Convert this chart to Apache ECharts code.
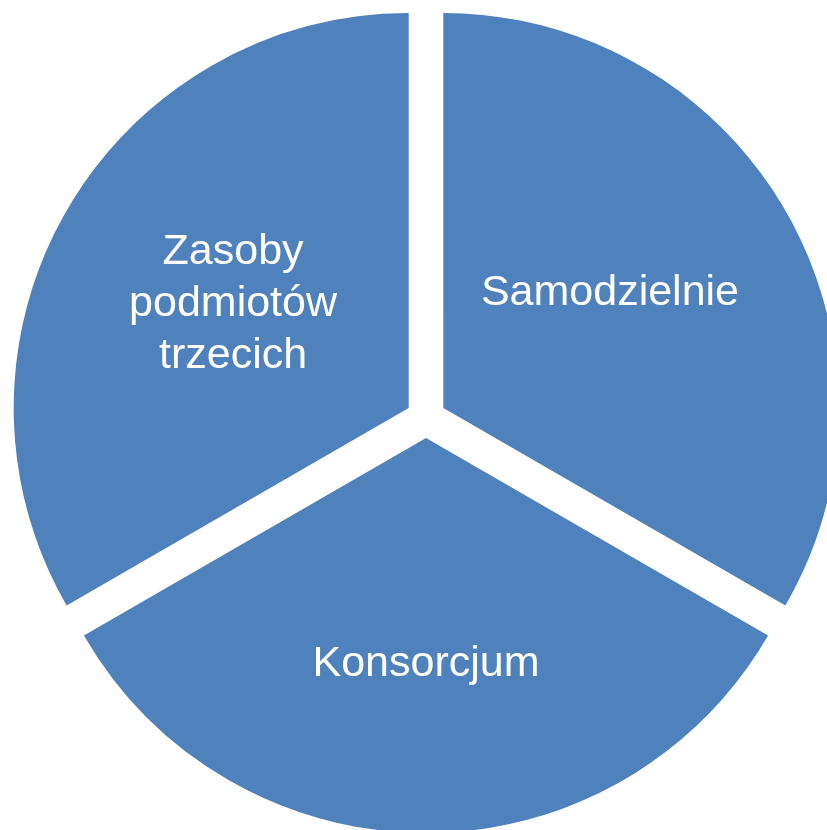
<!DOCTYPE html>
<html>
<head>
<meta charset="utf-8">
<script src="https://cdn.jsdelivr.net/npm/echarts@6/dist/echarts.min.js"></script>
<style>html,body{margin:0;padding:0;background:#fff}#c{width:827px;height:830px}</style>
</head>
<body>
<div id="c"></div>
<script>
const categories = ['Samodzielnie', 'Konsorcjum', 'Zasoby\npodmiotów\ntrzecich'];
const values = [1, 1, 1];
const labelShift = [[-7, -15], [0, 26], [-2, -4]];

const chart = echarts.init(document.getElementById('c'), null, {renderer: 'canvas'});
chart.setOption({
  animation: false,
  backgroundColor: '#ffffff',
  series: [{
    type: 'pie',
    center: [426, 418],
    radius: [0, 395],
    startAngle: 90,
    clockwise: true,
    selectedMode: 'multiple',
    selectedOffset: 20,
    silent: true,
    itemStyle: {color: '#4F81BD', borderWidth: 0},
    label: {
      position: 'inside',
      color: '#ffffff',
      fontFamily: 'Liberation Sans',
      fontSize: 43,
      lineHeight: 52,
      align: 'center'
    },
    labelLine: {show: false},
    labelLayout: function (p) {
      const s = labelShift[p.dataIndex];
      return {dx: s[0], dy: s[1]};
    },
    emphasis: {disabled: true},
    data: categories.map((n, i) => ({name: n, value: values[i], selected: true}))
  }]
});
</script>
</body>
</html>
